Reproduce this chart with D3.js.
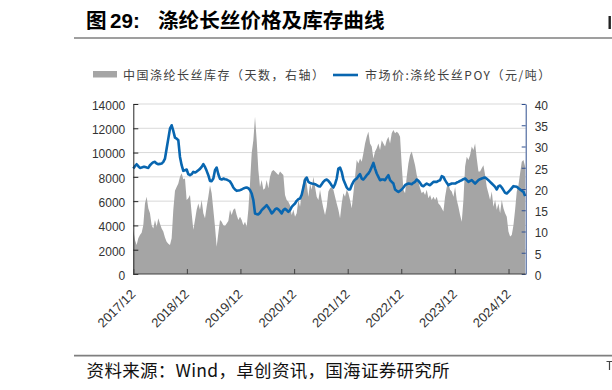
<!DOCTYPE html>
<html><head><meta charset="utf-8">
<script src="https://cdn.jsdelivr.net/npm/d3@7/dist/d3.min.js"></script>
<style>body{margin:0;background:#fff;} svg{display:block;}</style>
</head><body><svg id="c" width="612" height="390"></svg>
<script>
// ---- data ----
const firstDate = "2017-12-01";
const lastDate = "2025-03-24";
// 中国涤纶长丝库存（天数，右轴） — evenly spaced samples from firstDate to lastDate
const inventoryDays = [
  10.4, 8.0, 6.8, 8.4, 9.2, 9.7, 11.5, 16.6, 18.2, 15.5,
  14.3, 11.5, 10.7, 12.7, 11.1, 13.1, 11.8, 10.7, 10.0, 8.6,
  7.6, 7.1, 6.8, 8.4, 15.1, 19.6, 20.5, 21.3, 22.9, 23.7,
  22.3, 22.5, 17.4, 17.8, 18.6, 14.3, 10.4, 12.7, 15.1, 16.6,
  15.1, 17.4, 14.3, 13.1, 15.8, 18.2, 20.9, 19.0, 15.1, 11.1,
  6.4, 9.6, 12.7, 12.3, 11.5, 11.3, 11.9, 12.5, 15.1, 13.9,
  15.1, 15.5, 13.9, 12.7, 13.5, 12.7, 11.5, 12.3, 11.1, 15.1,
  21.3, 28.4, 31.5, 37.0, 31.5, 24.5, 20.5, 22.1, 19.8, 20.2,
  22.1, 20.2, 22.9, 24.1, 24.5, 24.1, 23.7, 23.3, 24.1, 23.7,
  23.3, 18.6, 17.4, 17.0, 16.2, 13.9, 15.1, 13.5, 14.3, 17.4,
  15.8, 19.0, 22.1, 22.9, 21.3, 18.2, 21.3, 19.8, 22.9, 20.5,
  18.2, 17.4, 19.8, 17.4, 15.5, 13.9, 15.8, 19.4, 20.2, 20.5,
  19.8, 18.2, 16.6, 15.1, 13.1, 16.6, 19.0, 18.2, 19.8, 19.0,
  17.4, 15.5, 19.0, 22.9, 26.8, 26.0, 27.2, 26.4, 28.4, 30.7,
  32.3, 33.5, 30.7, 30.0, 27.2, 28.8, 29.6, 30.7, 29.2, 31.5,
  30.7, 30.0, 31.5, 32.3, 30.7, 33.1, 33.9, 33.1, 33.5, 33.1,
  32.3, 25.6, 19.8, 19.0, 22.9, 26.0, 28.0, 28.8, 27.2, 25.6,
  23.3, 21.7, 20.2, 19.0, 19.4, 18.6, 19.8, 17.8, 18.6, 17.4,
  18.2, 17.4, 18.2, 16.6, 16.2, 15.5, 14.7, 18.2, 20.5, 21.3,
  19.8, 19.4, 18.2, 20.5, 17.4, 15.8, 13.9, 12.3, 17.4, 25.3,
  27.6, 26.8, 28.0, 30.0, 29.2, 30.7, 27.2, 24.1, 24.1, 24.9,
  25.6, 23.3, 20.5, 19.0, 17.4, 19.4, 15.8, 17.4, 15.1, 16.6,
  14.3, 17.4, 15.5, 14.3, 13.5, 10.0, 8.8, 9.2, 11.5, 15.1,
  19.4, 20.9, 23.7, 26.4, 26.8, 25.3
];
// 市场价:涤纶长丝POY（元/吨） — same dates
const poyPrice = [
  8685, 8877, 9041, 8877, 8740, 8767, 8822, 8822, 8767, 8740,
  8959, 9096, 9205, 9233, 9096, 9041, 9068, 9096, 9233, 9507,
  10329, 11151, 11973, 12247, 11781, 11233, 11151, 11014, 9644, 8959,
  8493, 8548, 8603, 8219, 8137, 8219, 8411, 8356, 8438, 8548,
  8658, 8822, 9041, 8822, 8493, 8137, 7671, 7644, 7863, 8548,
  8767, 8219, 7836, 7781, 7863, 7800, 7780, 7700, 7620, 7400,
  7123, 6959, 6849, 6877, 6904, 6959, 7041, 7096, 7123, 7068,
  6904, 6630, 6082, 4986, 4932, 4904, 5041, 5260, 5397, 5534,
  5671, 5479, 5260, 4986, 5123, 5315, 5397, 5315, 5178, 4986,
  5260, 5370, 5260, 5123, 5260, 5534, 5671, 5808, 6027, 6164,
  6219, 6521, 7123, 7726, 7945, 7589, 7507, 7452, 7425, 7397,
  7315, 7233, 7205, 7397, 7589, 7726, 7781, 7671, 7507, 7288,
  7123, 7397, 7863, 8685, 8767, 8411, 7781, 7452, 7123, 6959,
  6959, 7315, 7589, 7781, 7863, 8055, 8219, 7863, 7781, 7945,
  8137, 8274, 8493, 8822, 9151, 8685, 8274, 8000, 7726, 7781,
  7781, 7726, 7945, 8137, 7726, 7589, 7452, 6959, 6849, 6767,
  6849, 6959, 7123, 7315, 7397, 7452, 7425, 7397, 7507, 7589,
  7781, 7671, 7507, 7288, 7233, 7342, 7452, 7370, 7315, 7452,
  7589, 7589, 7589, 7671, 7726, 8055, 8000, 7726, 7507, 7315,
  7397, 7452, 7452, 7452, 7534, 7589, 7671, 7726, 7808, 7863,
  7726, 7589, 7671, 7726, 7589, 7452, 7589, 7726, 7808, 7863,
  7918, 7945, 7836, 7726, 7589, 7452, 7315, 7178, 6959, 7233,
  7288, 7123, 6904, 6685, 6630, 6767, 6904, 7068, 7233, 7205,
  7178, 7068, 6959, 6849, 6767, 6411
];
const xTickLabels = ["2017/12","2018/12","2019/12","2020/12","2021/12","2022/12","2023/12","2024/12"];
const leftTicks = [0, 2000, 4000, 6000, 8000, 10000, 12000, 14000];
const rightTicks = [0, 5, 10, 15, 20, 25, 30, 35, 40];
const titleNum = "29:";
const titleMain = "涤纶长丝价格及库存曲线";
const legendInv = "中国涤纶长丝库存（天数，右轴）";
const legendPrice = "市场价:涤纶长丝POY（元/吨）";
const sourceText = "资料来源：Wind，卓创资讯，国海证券研究所";

// ---- layout ----
const L = 133.3, R = 525.7, T = 104, B = 274;
const svg = d3.select("#c");
const parse = d3.timeParse("%Y-%m-%d");
const d0 = parse(firstDate), d1 = parse("2025-03-28"), dl = parse(lastDate);
const seriesDates = (n) => d3.range(n).map(i => new Date(d0.getTime() + (dl - d0) * i / (n - 1)));

const x = d3.scaleTime().domain([d0, d1]).range([L, R]);
const yL = d3.scaleLinear().domain([0, 14000]).range([B, T]);
const yR = d3.scaleLinear().domain([0, 40]).range([B, T]);

const numFont = "'Liberation Sans', Arial, sans-serif";
const cjkFont = "'Noto Sans CJK SC', 'Noto Sans', sans-serif";

// title
const title = svg.append("text").attr("y", 28).attr("font-family", cjkFont)
  .attr("font-weight", "bold").attr("font-size", 20.6).attr("fill", "#000");
title.append("tspan").attr("x", 86).text("图");
title.append("tspan").attr("x", 110).attr("font-family", numFont).text(titleNum);
title.append("tspan").attr("x", 158).text(titleMain);
// fragment of the neighbouring page column at the right edge
svg.append("rect").attr("x", 608.5).attr("y", 16).attr("width", 2.4).attr("height", 13).attr("fill", "#222");
svg.append("line").attr("x1", 74).attr("x2", 612).attr("y1", 38).attr("y2", 38)
  .attr("stroke", "#7f7f7f").attr("stroke-width", 1.6);

// legend
const lg = svg.append("g").attr("font-family", cjkFont).attr("font-size", 12)
  .attr("fill", "#404040").attr("letter-spacing", 1.5);
lg.append("rect").attr("x", 93).attr("y", 71).attr("width", 24).attr("height", 6.5).attr("fill", "#a5a5a5");
lg.append("text").attr("x", 123).attr("y", 79.5).text(legendInv);
lg.append("line").attr("x1", 333).attr("x2", 358).attr("y1", 75).attr("y2", 75)
  .attr("stroke", "#0866b0").attr("stroke-width", 2.6);
lg.append("text").attr("x", 365).attr("y", 79.5).text(legendPrice);

// gridlines
svg.append("g").selectAll("line").data(leftTicks.filter(v => v > 0)).join("line")
  .attr("x1", L).attr("x2", R).attr("y1", d => yL(d)).attr("y2", d => yL(d))
  .attr("stroke", "#d9d9d9").attr("stroke-width", 1);

// inventory area
const invDates = seriesDates(inventoryDays.length);
svg.append("path").datum(inventoryDays)
  .attr("d", d3.area().x((d, i) => x(invDates[i])).y0(yR(0)).y1(d => yR(d)))
  .attr("fill", "#a5a5a5");

// price line
const pDates = seriesDates(poyPrice.length);
svg.append("path").datum(poyPrice)
  .attr("d", d3.line().x((d, i) => x(pDates[i])).y(d => yL(d)))
  .attr("fill", "none").attr("stroke", "#0866b0").attr("stroke-width", 2.6)
  .attr("stroke-linejoin", "round");

// axes
const ax = (g, color) => {
  g.selectAll(".domain").attr("stroke", color);
  g.selectAll(".tick line").attr("stroke", color);
  g.selectAll("text").attr("font-family", numFont).attr("font-size", 12).attr("fill", "#333");
};
const gl = svg.append("g").attr("transform", `translate(${L},0)`)
  .call(d3.axisLeft(yL).tickValues(leftTicks).tickFormat(d3.format("d"))
    .tickSize(-5).tickSizeOuter(0).tickPadding(8));
ax(gl, "#262626");
gl.selectAll("text").attr("dy", "0.45em");

const gr = svg.append("g").attr("transform", `translate(${R},0)`)
  .call(d3.axisRight(yR).tickValues(rightTicks).tickFormat(d3.format("d"))
    .tickSize(-4).tickSizeOuter(0).tickPadding(9));
ax(gr, "#2f4f8f");
gr.selectAll("text").attr("dy", "0.45em");

const tickDates = xTickLabels.map(s => d3.timeParse("%Y/%m")(s));
const gb = svg.append("g").attr("transform", `translate(0,${B})`)
  .call(d3.axisBottom(x).tickValues(tickDates).tickSize(-5).tickSizeOuter(0).tickFormat(""));
ax(gb, "#404040");
gb.select(".domain").attr("d", `M${L},0H${R}`);

svg.append("g").selectAll("text").data(xTickLabels).join("text")
  .attr("transform", (d, i) => `translate(${x(tickDates[i]) + 3},${B + 21}) rotate(-45)`)
  .attr("text-anchor", "end").attr("font-family", numFont).attr("font-size", 13)
  .attr("fill", "#333").text(d => d);

// source
svg.append("line").attr("x1", 74).attr("x2", 612).attr("y1", 355.6).attr("y2", 355.6)
  .attr("stroke", "#7f7f7f").attr("stroke-width", 1.6);
svg.append("text").attr("x", 86.6).attr("y", 377).attr("font-family", cjkFont)
  .attr("font-size", 17.5).attr("letter-spacing", 0.3).attr("fill", "#111").text(sourceText);
svg.append("path").attr("d", "M606.5,361.5H612M609.5,361.5V370").attr("stroke", "#444")
  .attr("stroke-width", 1.2).attr("fill", "none");
</script></body></html>
